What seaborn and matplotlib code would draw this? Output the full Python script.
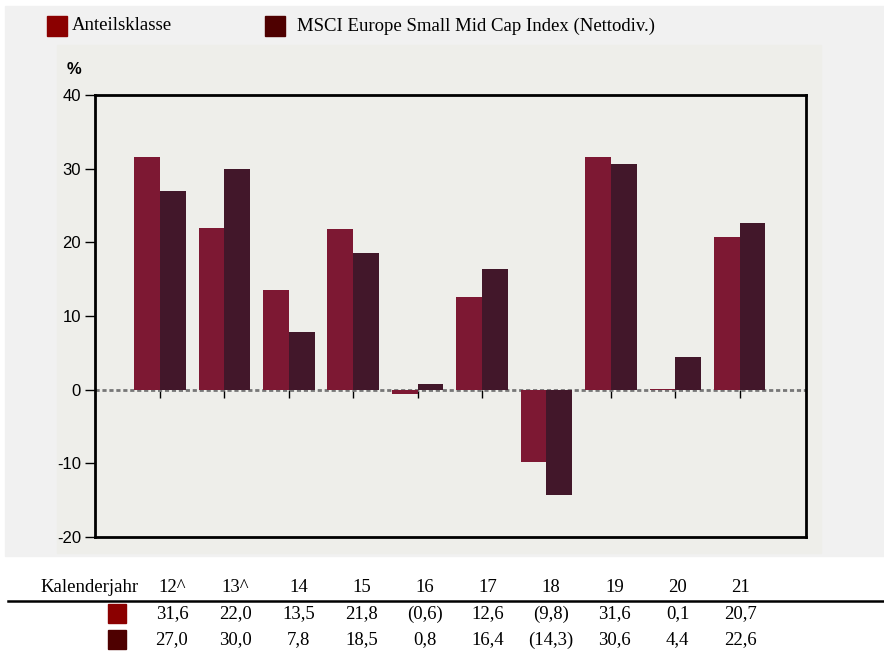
import numpy as np
import pandas as pd
import seaborn as sns
import matplotlib.pyplot as plt
from matplotlib.patches import Rectangle
from matplotlib.lines import Line2D

# data
years = ["12^", "13^", "14", "15", "16", "17", "18", "19", "20", "21"]
fund = [31.6, 22.0, 13.5, 21.8, -0.6, 12.6, -9.8, 31.6, 0.1, 20.7]
index = [27.0, 30.0, 7.8, 18.5, 0.8, 16.4, -14.3, 30.6, 4.4, 22.6]
fund_labels = ["31,6", "22,0", "13,5", "21,8", "(0,6)", "12,6", "(9,8)", "31,6", "0,1", "20,7"]
index_labels = ["27,0", "30,0", "7,8", "18,5", "0,8", "16,4", "(14,3)", "30,6", "4,4", "22,6"]
series = ["Anteilsklasse", "MSCI Europe Small Mid Cap Index (Nettodiv.)"]
bar_colors = ["#7d1833", "#42172a"]
key_colors = ["#8b0000", "#4e0000"]

df = pd.DataFrame({
    "year": years * 2,
    "value": fund + index,
    "series": [series[0]] * len(years) + [series[1]] * len(years),
})

plt.rcParams["axes.unicode_minus"] = False

W, H = 884, 651
fig = plt.figure(figsize=(W / 100, H / 100), dpi=100)
fig.patch.set_facecolor("white")


def fx(x):
    return x / W


def fy(y):
    return 1 - y / H


# background panels
fig.patches.append(Rectangle((fx(5), fy(556)), fx(884 - 5), (556 - 6) / H,
                             transform=fig.transFigure, color="#f1f1f1", zorder=-10))
fig.patches.append(Rectangle((fx(57), fy(553)), fx(821 - 57), (553 - 45) / H,
                             transform=fig.transFigure, color="#eeeeea", zorder=-9))

ax = fig.add_axes([fx(95), fy(537), fx(806 - 95), (537 - 95) / H])
ax.set_facecolor("#eeeeea")

sns.barplot(data=df, x="year", y="value", hue="series", palette=bar_colors,
            width=0.8, saturation=1, ax=ax, zorder=3, edgecolor="none")
ax.get_legend().remove()

ax.set_xlim(-1.01, 10.03)
ax.set_ylim(-20, 40)
ax.set_yticks([-20, -10, 0, 10, 20, 30, 40])
ax.set_xticks([])
ax.set_xlabel("")
ax.set_ylabel("")
for s in ax.spines.values():
    s.set_linewidth(2)
    s.set_color("black")
ax.tick_params(axis="y", direction="out", length=7, width=1, pad=3,
               labelsize=12, labelfontfamily="Liberation Sans")

# dotted zero line
ax.axhline(0, color="#777777", linestyle=(0, (1.5, 1)), linewidth=2, zorder=2)

# tick marks hanging from the zero line
sec = ax.secondary_xaxis(1 / 3)
sec.set_xticks(range(len(years)))
sec.set_xticklabels([])
sec.tick_params(direction="out", length=6, width=1, color="black")
sec.spines["bottom"].set_visible(False)

fig.text(fx(67), fy(70), "%", fontsize=12, fontweight="bold",
         family="Liberation Sans", va="center", ha="left")

# legend at top
serif = "Liberation Serif"
fs = 13.5
for x0, tx, lab, c in [(47, 72, series[0], key_colors[0]), (265, 297, series[1], key_colors[1])]:
    fig.patches.append(Rectangle((fx(x0), fy(36)), fx(20), 20 / H,
                                 transform=fig.transFigure, color=c))
    fig.text(fx(tx), fy(26), lab, fontsize=fs, family=serif, va="center", ha="left")

# table below
cols = [172 + 63.2 * i for i in range(len(years))]
fig.text(fx(40), fy(588), "Kalenderjahr", fontsize=fs, family=serif, va="center", ha="left")
for i, y in enumerate(years):
    fig.text(fx(cols[i]), fy(588), y, fontsize=fs, family=serif, va="center", ha="center")
    fig.text(fx(cols[i]), fy(614), fund_labels[i], fontsize=fs, family=serif, va="center", ha="center")
    fig.text(fx(cols[i]), fy(640), index_labels[i], fontsize=fs, family=serif, va="center", ha="center")
fig.lines.append(Line2D([fx(8), fx(884)], [fy(601), fy(601)], transform=fig.transFigure,
                        color="black", linewidth=1.8))
for yy, c in [(604, key_colors[0]), (630, key_colors[1])]:
    fig.patches.append(Rectangle((fx(108), fy(yy + 19)), fx(18), 19 / H,
                                 transform=fig.transFigure, color=c))

fig.savefig("out.png", dpi=100)
